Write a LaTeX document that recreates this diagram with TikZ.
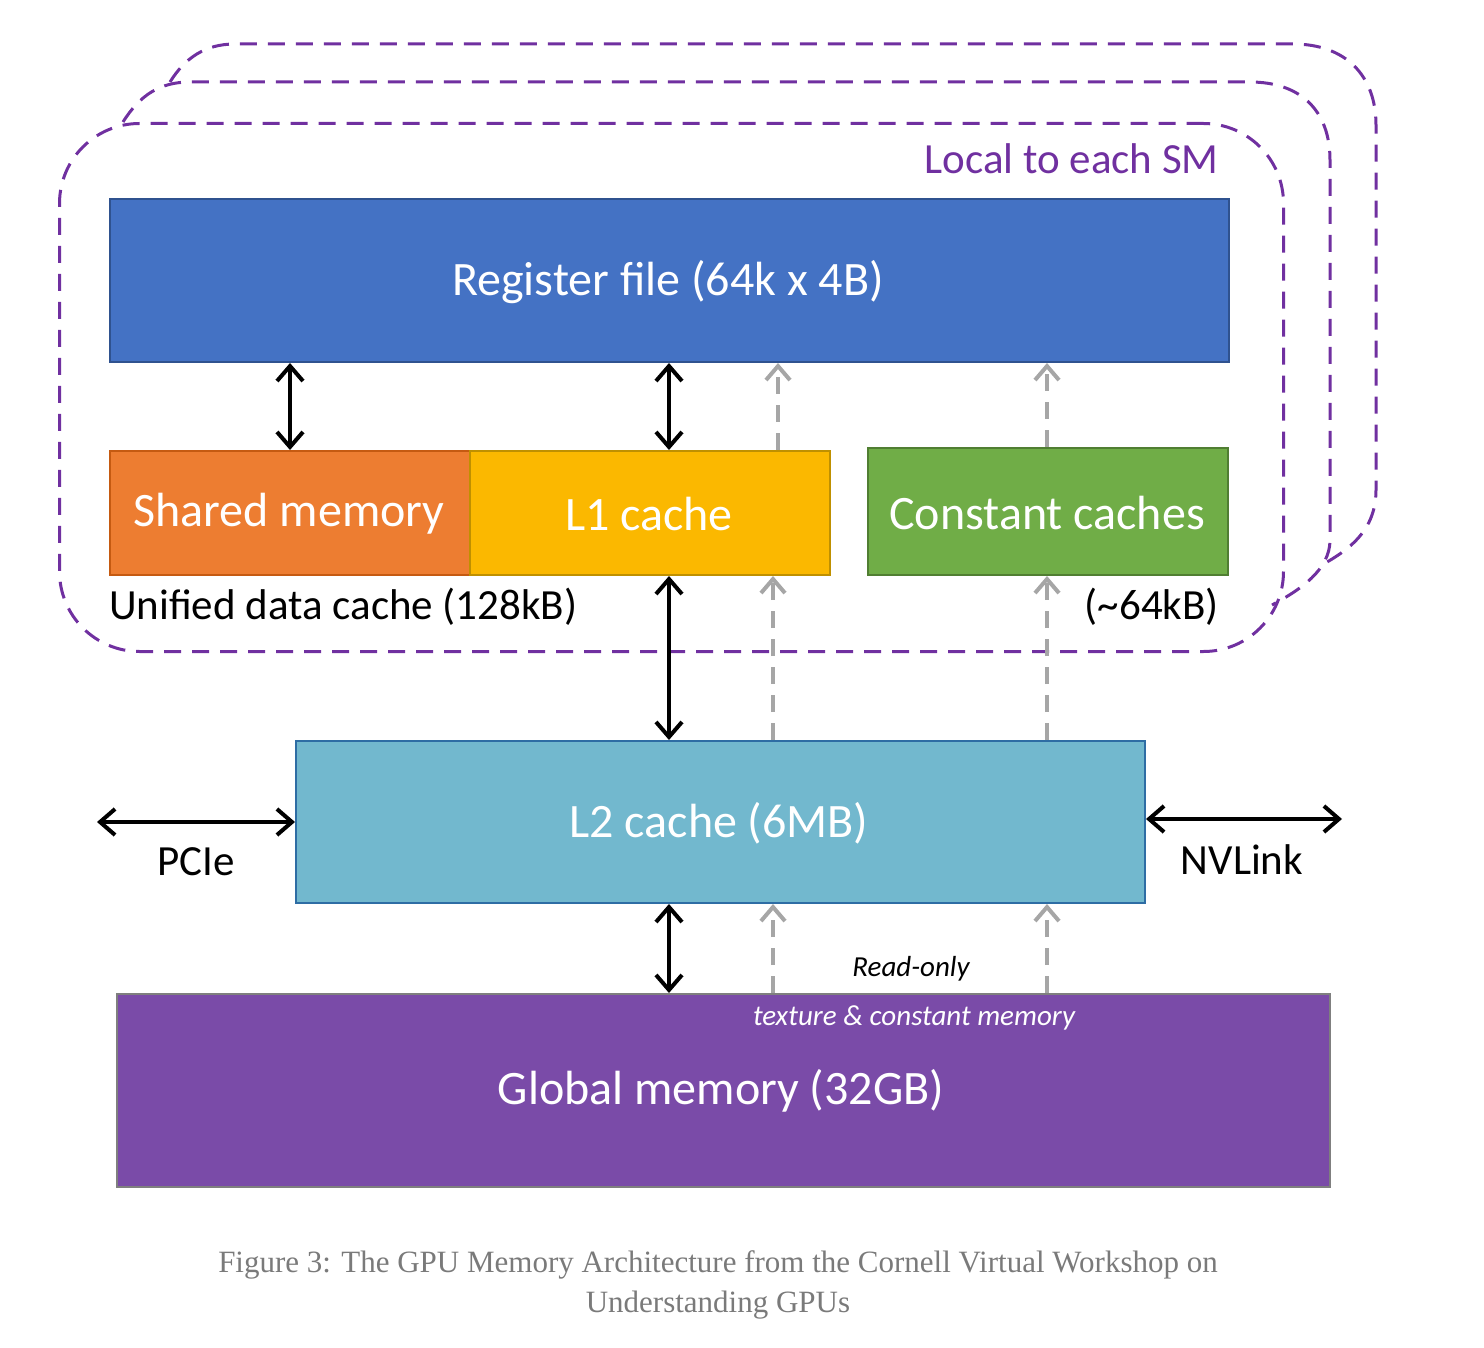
\documentclass[tikz,border=0pt]{standalone}
\usepackage{fontspec}
\setmainfont{Carlito}
\newfontfamily\capfont{Liberation Serif}
\usetikzlibrary{arrows.meta}
\definecolor{smpurple}{HTML}{7030A0}
\definecolor{regblue}{HTML}{4472C4}
\definecolor{regedge}{HTML}{2F528F}
\definecolor{shorange}{HTML}{ED7D31}
\definecolor{shedge}{HTML}{C55A11}
\definecolor{lonegold}{HTML}{FBB800}
\definecolor{loneedge}{HTML}{BF9000}
\definecolor{cgreen}{HTML}{70AD47}
\definecolor{cedge}{HTML}{507E32}
\definecolor{ltwo}{HTML}{72B8CE}
\definecolor{ltwoedge}{HTML}{2E6DA4}
\definecolor{gmem}{HTML}{7A4BA8}
\definecolor{gedge}{HTML}{7F7F7F}
\definecolor{arrgray}{HTML}{A6A6A6}
\definecolor{capgray}{HTML}{7A7A7A}
\tikzset{
  memblock/.style={draw, line width=2pt, anchor=north west, inner sep=0pt, text=white,
    font=\fontsize{48}{56}\selectfont},
  smline/.style={draw=smpurple, line width=3pt, dash pattern=on 17pt off 11pt},
  dbl/.style={line width=4pt, {Straight Barb[length=15pt,width=26pt]}-{Straight Barb[length=15pt,width=26pt]}},
  roarr/.style={draw=arrgray, line width=4pt, dash pattern=on 17pt off 11pt, -{Straight Barb[length=14pt,width=24pt]}},
  lbl/.style={inner sep=0pt, font=\fontsize{43}{50}\selectfont},
  itl/.style={inner sep=0pt, font=\fontsize{29}{34}\selectfont\itshape},
  txt/.style={text=white, inner sep=0pt, font=\fontsize{48}{56}\selectfont},
}
\begin{document}
\begin{tikzpicture}[x=1pt,y=-1pt]
\useasboundingbox (0,0) rectangle (1484,1348);
% SM frames
\draw[smline] (170,82) .. controls (185,58) and (205,44) .. (235,44) -- (1293,44)
  .. controls (1345,44) and (1376,75) .. (1376,125) -- (1376,490)
  .. controls (1376,530) and (1350,550) .. (1318,567);
\draw[smline] (123,122) .. controls (140,95) and (160,82) .. (190,82) -- (1250,82)
  .. controls (1300,82) and (1330,110) .. (1330,160) -- (1330,540)
  .. controls (1330,570) and (1300,590) .. (1272,605);
\node[smline, rounded corners=80pt, minimum width=1224pt, minimum height=528pt,
  anchor=north west, inner sep=0pt] (sm) at (58,122) {};
\node[lbl, text=smpurple, anchor=east] (smlbl) at (1219,159) {Local to each SM};
% blocks
\node[memblock, fill=regblue, draw=regedge, minimum width=1119pt, minimum height=163pt] (reg) at (109,198) {};
\node[memblock, fill=shorange, draw=shedge, minimum width=360pt, minimum height=124pt] (shm) at (109,450) {};
\node[memblock, fill=lonegold, draw=loneedge, minimum width=360pt, minimum height=124pt] (l1) at (469,450) {};
\node[memblock, fill=cgreen, draw=cedge, minimum width=360pt, minimum height=127pt] (cc) at (867,447) {};
\node[memblock, fill=ltwo, draw=ltwoedge, minimum width=849pt, minimum height=162pt] (l2) at (295,740) {};
\node[memblock, fill=gmem, draw=gedge, minimum width=1213pt, minimum height=193pt] (gm) at (116,993) {};
\node[txt] (regt) at (668,282) {Register file (64k x 4B)};
\node[txt] (shmt) at (289,514) {Shared memory};
\node[txt] (l1t) at (649,514) {L1 cache};
\node[txt] (cct) at (1047,513) {Constant caches};
\node[txt] (l2t) at (719,823) {L2 cache (6MB)};
\node[txt] (gmt) at (721,1091) {Global memory (32GB)};
\node[lbl, anchor=west] (udc) at (109,607) {Unified data cache (128kB)};
\node[lbl, anchor=east] (ccsz) at (1219,607) {(\textasciitilde 64kB)};
\node[itl, text=white] (tex) at (914,1018) {texture \& constant memory};
\node[itl] (ro) at (911,969) {Read-only};
% external links
\coordinate (pcieend) at (97,822);
\coordinate (nvend) at (1342,819);
\draw[dbl] (pcieend) -- (pcieend -| l2.west);
\draw[dbl] (l2.east |- nvend) -- (nvend);
\node[lbl] (pcie) at (196,862) {PCIe};
\node[lbl] (nvl) at (1242,860) {NVLink};
% arrow columns
\coordinate (ca) at (290,0);
\coordinate (cb) at (669,0);
\coordinate (cc1) at (778,0);
\coordinate (cc2) at (773,0);
\coordinate (cd) at (1047,0);
\draw[dbl] (reg.south -| ca) -- (shm.north -| ca);
\draw[dbl] (reg.south -| cb) -- (l1.north -| cb);
\draw[dbl] (l1.south -| cb) -- (l2.north -| cb);
\draw[dbl] (l2.south -| cb) -- (gm.north -| cb);
\draw[roarr] (l1.north -| cc1) -- (reg.south -| cc1);
\draw[roarr] (cc.north -| cd) -- (reg.south -| cd);
\draw[roarr] (l2.north -| cc2) -- (l1.south -| cc2);
\draw[roarr] (l2.north -| cd) -- (cc.south -| cd);
\draw[roarr] (gm.north -| cc2) -- (l2.south -| cc2);
\draw[roarr] (gm.north -| cd) -- (l2.south -| cd);
% caption
\node[inner sep=0pt, text=capgray, align=center, font=\capfont\fontsize{31}{40}\selectfont] (cap) at (718,1285)
  {Figure 3: The GPU Memory Architecture from the Cornell Virtual Workshop on\\Understanding GPUs};
\end{tikzpicture}
\end{document}
